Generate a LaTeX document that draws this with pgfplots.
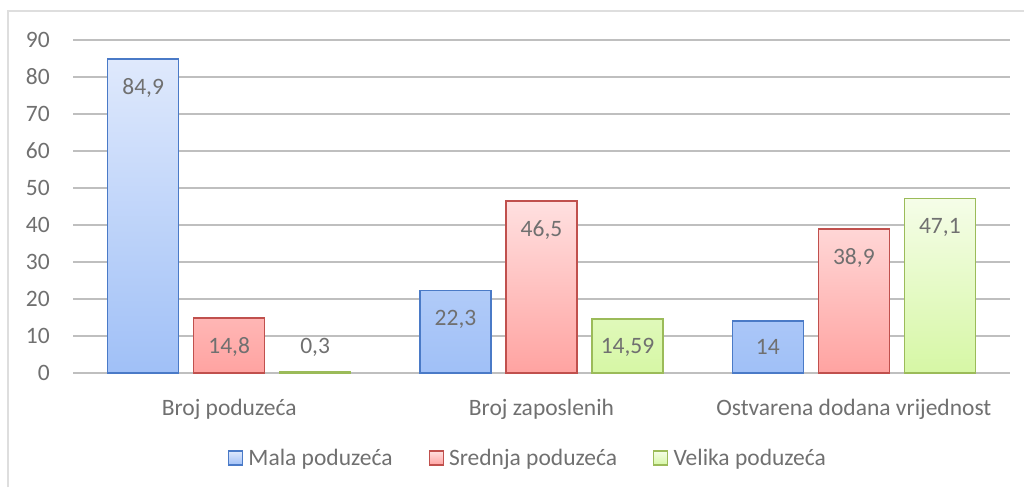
\documentclass[border=0pt]{standalone}
\usepackage{pgfplots}
\pgfplotsset{compat=1.18}
\usepackage{fontspec}
\setmainfont{Carlito}
\definecolor{txt}{RGB}{112,112,112}
\definecolor{grid}{RGB}{222,222,222}
\definecolor{bluetop}{RGB}{223,233,252}
\definecolor{bluebot}{RGB}{160,192,247}
\definecolor{blueedge}{RGB}{74,122,199}
\definecolor{redtop}{RGB}{255,224,224}
\definecolor{redbot}{RGB}{255,163,161}
\definecolor{rededge}{RGB}{192,80,77}
\definecolor{greentop}{RGB}{245,253,232}
\definecolor{greenbot}{RGB}{214,247,165}
\definecolor{greenedge}{RGB}{155,187,89}
\begin{document}
\begin{tikzpicture}[x=1pt,y=1pt]
\path[use as bounding box] (0,0) rectangle (1024,487);
\draw[grid, line width=1.2pt] (8,0) -- (8,476) -- (1024,476);
\begin{axis}[
  at={(73pt,114pt)}, anchor=south west,
  scale only axis, width=937pt, height=333pt,
  xmin=-0.5, xmax=2.5, ymin=0, ymax=90,
  ytick={0,10,...,90},
  xtick=data,
  xticklabels={Broj poduzeća, Broj zaposlenih, Ostvarena dodana vrijednost},
  ybar=15pt, bar width=71pt,
  axis line style={draw=none},
  major tick length=0pt,
  xmajorgrids=false,
  ymajorgrids, grid style={grid, line width=1.3pt},
  font=\fontsize{23.5}{28}\selectfont,
  tick label style={text=txt, font=\fontsize{23.5}{28}\selectfont},
  /pgf/number format/assume math mode=true,
  /pgf/number format/use comma,
  /pgf/number format/1000 sep={},
  yticklabel style={anchor=east, inner sep=0pt, xshift=-23pt},
  xticklabel style={anchor=base, inner sep=0pt, yshift=-42pt},
  nodes near coords,
  visualization depends on={y \as \rawy},
  every node near coord/.append style={text=txt, anchor=center, inner sep=0pt,
     font=\fontsize{23.5}{28}\selectfont, yshift={max(-29,26-3.7*\rawy)}},
  legend columns=3,
  legend style={draw=none, fill=none, at={(0.4845,-0.255)}, anchor=center,
     text=txt, font=\fontsize{23.5}{28}\selectfont,
     /tikz/every even column/.append style={column sep=36pt},
     nodes={inner sep=0pt}},
  legend image code/.code={\draw[#1, line width=1.3pt] (0pt,-7pt) rectangle (14pt,7pt);
     \path (19pt,0pt);},
]
\addplot[draw=blueedge, line width=1.5pt, top color=bluetop, bottom color=bluebot] coordinates {(0,84.9) (1,22.3) (2,14)};
\addplot[draw=rededge, line width=1.5pt, top color=redtop, bottom color=redbot] coordinates {(0,14.8) (1,46.5) (2,38.9)};
\addplot[draw=greenedge, line width=1.5pt, top color=greentop, bottom color=greenbot] coordinates {(0,0.3) (1,14.59) (2,47.1)};
\legend{Mala poduzeća, Srednja poduzeća, Velika poduzeća}
\end{axis}
\end{tikzpicture}
\end{document}
